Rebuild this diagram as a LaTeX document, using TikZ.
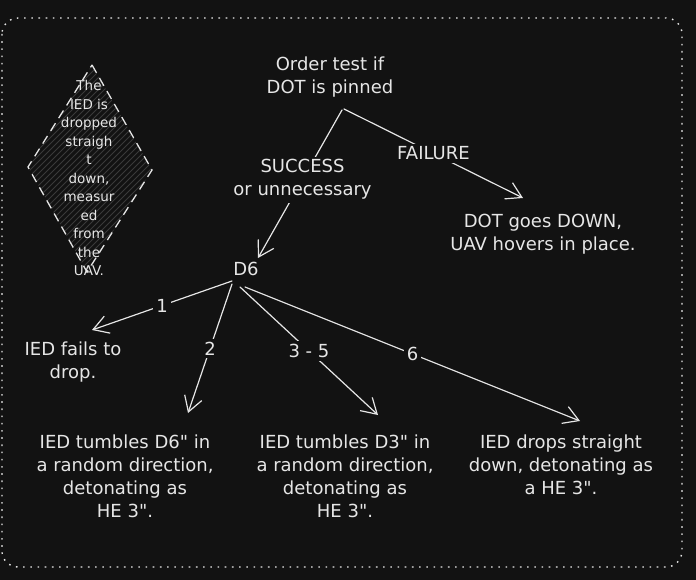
\documentclass[tikz,border=0pt]{standalone}
\usepackage{fontspec}
\setmainfont{DejaVu Sans}[Ligatures=TeXOff]
\usetikzlibrary{arrows.meta}
\definecolor{bg}{HTML}{121212}
\definecolor{ink}{HTML}{E6E6E6}
\definecolor{hatchc}{HTML}{3A3A3A}
\tikzset{
  txt/.style={text=ink, align=center, inner sep=0pt, font=\fontsize{18}{23}\selectfont},
  lbl/.style={text=ink, align=center, fill=bg, inner sep=3pt, font=\fontsize{18}{23}\selectfont},
  arr/.style={draw=ink, line width=1.2pt, line cap=round,
    -{Straight Barb[length=15pt,width=18pt,line width=1.2pt]}},
  frame/.style={draw=ink, line width=1.4pt, dash pattern=on 1.6pt off 5.6pt, rounded corners=16pt},
  dia/.style={draw=ink, line width=1.3pt, dash pattern=on 9pt off 6pt},
}
\begin{document}
\begin{tikzpicture}[x=1pt,y=-1pt]
\fill[bg] (0,0) rectangle (696,580);
\useasboundingbox (0,0) rectangle (696,580);
\draw[frame] (2,18) rectangle (682,567);

% diamond with hatching
\begin{scope}
  \clip (92,65) -- (152,170) -- (87,272) -- (28,167) -- cycle;
  \foreach \i in {-240,-234,...,160} \draw[hatchc, line width=0.9pt] (\i,290) -- ++(240,-240);
\end{scope}
\draw[dia] (92,65) -- (152,170) -- (87,272) -- (28,167) -- cycle;
\node[text=ink, align=center, inner sep=0pt, font=\fontsize{13.5}{18.5}\selectfont] (dtext) at (89,178)
  {The\\IED is\\dropped\\straigh\\t\\down,\\measur\\ed\\from\\the\\UAV.};

% text nodes
\node[txt] (order) at (330,77) {Order test if\\DOT is pinned};
\node[txt] (dot) at (543,234) {DOT goes DOWN,\\UAV hovers in place.};
\node[txt] (d6) at (246,269) {D6};
\node[txt] (fails) at (73,362) {IED fails to\\drop.};
\node[txt] (t1) at (125,476) {IED tumbles D6" in\\a random direction,\\detonating as\\HE 3".};
\node[txt] (t2) at (345,476) {IED tumbles D3" in\\a random direction,\\detonating as\\HE 3".};
\node[txt] (t3) at (561,465) {IED drops straight\\down, detonating as\\a HE 3".};

% connector end points
\coordinate (o1) at (342,110);
\coordinate (o2) at (344,109);
\coordinate (s1) at (258,258);
\coordinate (f1) at (523,198);
\coordinate (a1) at (232,281);
\coordinate (b1) at (92,330);
\coordinate (a2) at (232,284);
\coordinate (b2) at (188,413);
\coordinate (a3) at (240,287);
\coordinate (b3) at (378,415);
\coordinate (a4) at (245,287);
\coordinate (b4) at (580,421);

\draw[arr] (o1) -- node[lbl, pos=0.47] (succ) {SUCCESS\\or unnecessary} (s1);
\draw[arr] (o2) -- node[lbl, pos=0.5] (fail) {FAILURE} (f1);
\draw[arr] (a1) -- node[lbl, pos=0.5] (l1) {1} (b1);
\draw[arr] (a2) -- node[lbl, pos=0.5] (l2) {2} (b2);
\draw[arr] (a3) -- node[lbl, pos=0.5] (l3) {3 - 5} (b3);
\draw[arr] (a4) -- node[lbl, pos=0.5] (l4) {6} (b4);
\end{tikzpicture}
\end{document}
